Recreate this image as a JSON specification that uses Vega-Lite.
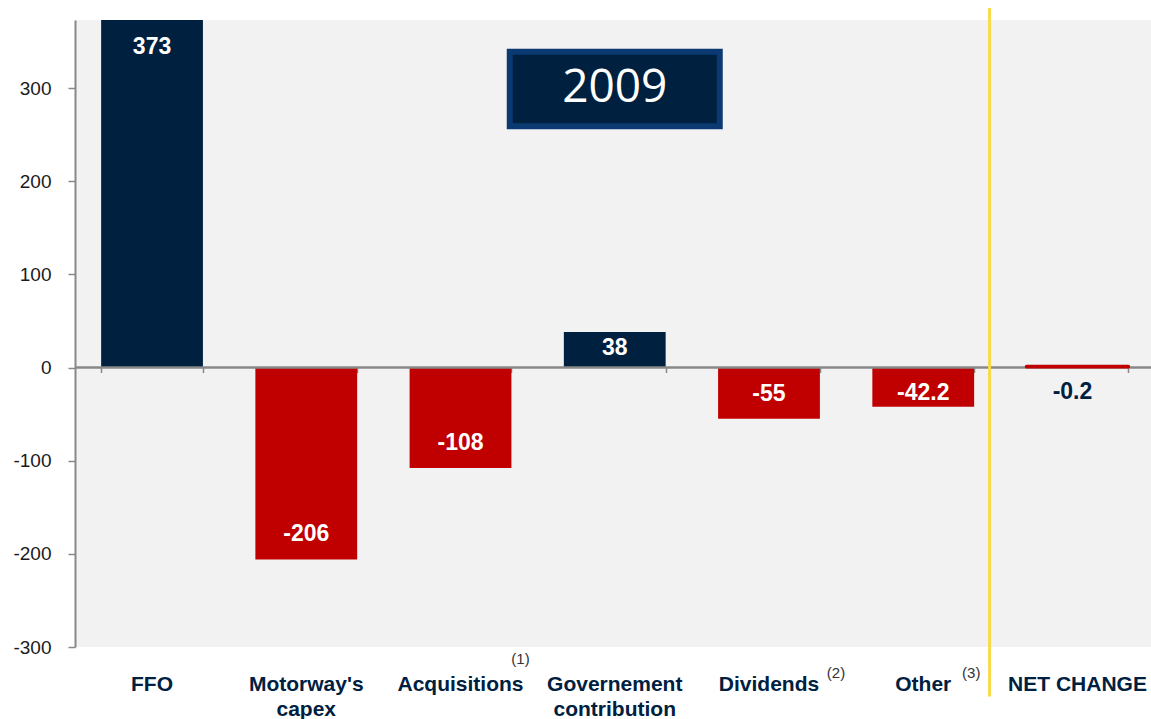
{
  "$schema": "https://vega.github.io/schema/vega-lite/v6.json",
  "autosize": {"type": "none"},
  "padding": {"left": 75, "top": 20, "right": 0, "bottom": 72},
  "width": 1076,
  "height": 627,
  "background": "white",
  "config": {
    "view": {"fill": "#F2F2F2", "stroke": null},
    "font": "Liberation Sans",
    "axisY": {
      "title": null, "grid": false,
      "domainColor": "#888888", "domainWidth": 2, "tickColor": "#888888", "tickWidth": 1.5,
      "tickSize": 7, "labelPadding": 17, "labelFontSize": 19, "labelColor": "#1A1A1A",
      "labelExpr": "'' + datum.value"
    }
  },
  "datasets": {
    "bars": [
      {"cat": "FFO", "value": 373},
      {"cat": "Motorway's capex", "value": -206},
      {"cat": "Acquisitions", "value": -108},
      {"cat": "Governement contribution", "value": 38},
      {"cat": "Dividends", "value": -55},
      {"cat": "Other", "value": -42.2},
      {"cat": "NET CHANGE", "value": -0.2}
    ],
    "notes": [
      {"cat": "Acquisitions", "note": "(1)"},
      {"cat": "Dividends", "note": "(2)"},
      {"cat": "Other", "note": "(3)"}
    ],
    "title": [
      {"cat": "Governement contribution", "year": "2009", "lo": 259, "hi": 339, "mid": 300}
    ],
    "divider": [
      {"cat": "NET CHANGE", "top": 386, "bottom": -353}
    ],
    "zero": [
      {"base": 0}
    ]
  },
  "resolve": {"axis": {"x": "independent"}},
  "layer": [
    {
      "data": {"name": "bars"},
      "transform": [{"filter": "datum.cat != 'NET CHANGE'"}],
      "mark": {"type": "bar"},
      "encoding": {
        "x": {
          "field": "cat", "type": "nominal",
          "sort": ["FFO", "Motorway's capex", "Acquisitions", "Governement contribution", "Dividends", "Other", "NET CHANGE"],
          "scale": {
            "domain": ["FFO", "Motorway's capex", "Acquisitions", "Governement contribution", "Dividends", "Other", "NET CHANGE"],
            "paddingInner": 0.34, "paddingOuter": 0.158, "align": 0.536
          },
          "axis": {
            "orient": "bottom", "title": null, "domain": false, "ticks": false, "tickSize": 0,
            "labelAngle": 0, "labelPadding": 26, "labelFontSize": 21, "labelFontWeight": "bold",
            "labelColor": "#00203F", "labelLineHeight": 25, "labelBaseline": "top",
            "labelExpr": "indexof(datum.label, 'NET') >= 0 ? datum.label : split(datum.label, ' ')"
          }
        },
        "y": {
          "field": "value", "type": "quantitative",
          "scale": {"domain": [-300, 373], "nice": false, "zero": false},
          "axis": {"title": null, "values": [-300, -200, -100, 0, 100, 200, 300]}
        },
        "color": {
          "condition": {"test": "datum.value > 0", "value": "#00203F"},
          "value": "#C00000"
        }
      }
    },
    {
      "data": {"name": "zero"},
      "mark": {"type": "rule", "color": "#888888", "strokeWidth": 2.5},
      "encoding": {
        "y": {"field": "base", "type": "quantitative", "axis": {"title": null, "values": [-300, -200, -100, 0, 100, 200, 300]}}
      }
    },
    {
      "data": {"name": "bars"},
      "transform": [{"filter": "datum.cat == 'NET CHANGE'"}],
      "mark": {"type": "bar", "fill": "#D42020", "stroke": "#C00000", "strokeWidth": 3.5, "strokeJoin": "round", "yOffset": -1},
      "encoding": {
        "x": {"field": "cat", "type": "nominal", "axis": null},
        "y": {"field": "value", "type": "quantitative", "axis": {"title": null, "values": [-300, -200, -100, 0, 100, 200, 300]}}
      }
    },
    {
      "data": {"name": "bars"},
      "mark": {"type": "rule", "opacity": 0},
      "encoding": {
        "x": {
          "field": "cat", "type": "nominal",
          "axis": {
            "orient": "bottom", "offset": -279.5, "labels": false, "title": null,
            "domain": false,
            "ticks": true, "tickBand": "extent", "tickSize": 5, "tickColor": "#888888", "tickWidth": 1.5,
            "tickOffset": 0
          }
        },
        "y": {"field": "value", "type": "quantitative", "axis": {"title": null, "values": [-300, -200, -100, 0, 100, 200, 300]}}
      }
    },
    {
      "data": {"name": "bars"},
      "mark": {
        "type": "text", "baseline": "middle", "align": "center", "fontSize": 23, "fontWeight": "bold",
        "dx": {"expr": "datum.cat == 'NET CHANGE' ? -5 : 0"},
        "dy": {"expr": "datum.cat == 'NET CHANGE' ? 24 : datum.value > 100 ? 27 : datum.value > 0 ? 16 : datum.value < -50 ? -25 : -14"}
      },
      "encoding": {
        "x": {"field": "cat", "type": "nominal", "axis": null},
        "y": {"field": "value", "type": "quantitative", "axis": {"title": null, "values": [-300, -200, -100, 0, 100, 200, 300]}},
        "text": {"field": "value", "type": "nominal"},
        "color": {
          "condition": {"test": "datum.cat == 'NET CHANGE'", "value": "#00203F"},
          "value": "#FFFFFF"
        }
      }
    },
    {
      "data": {"name": "title"},
      "mark": {"type": "bar", "width": 210, "fill": "#00203F", "stroke": "#0B3A73", "strokeWidth": 6},
      "encoding": {
        "x": {"field": "cat", "type": "nominal", "axis": null},
        "y": {"field": "lo", "type": "quantitative", "axis": {"title": null, "values": [-300, -200, -100, 0, 100, 200, 300]}},
        "y2": {"field": "hi"}
      }
    },
    {
      "data": {"name": "title"},
      "mark": {"type": "text", "font": "Open Sans", "fontSize": 46, "color": "#FFFFFF", "baseline": "middle", "align": "center"},
      "encoding": {
        "x": {"field": "cat", "type": "nominal", "axis": null},
        "y": {"field": "mid", "type": "quantitative", "axis": {"title": null, "values": [-300, -200, -100, 0, 100, 200, 300]}},
        "text": {"field": "year", "type": "nominal"}
      }
    },
    {
      "data": {"name": "divider"},
      "mark": {"type": "rule", "color": "#F9DA48", "strokeWidth": 3, "xOffset": -37},
      "encoding": {
        "x": {"field": "cat", "type": "nominal", "bandPosition": 0, "axis": null},
        "y": {"field": "top", "type": "quantitative", "axis": {"title": null, "values": [-300, -200, -100, 0, 100, 200, 300]}},
        "y2": {"field": "bottom"}
      }
    },
    {
      "data": {"name": "notes"},
      "mark": {
        "type": "text", "fontSize": 15, "color": "#333333", "baseline": "middle", "align": "center",
        "dx": {"expr": "datum.cat == 'Acquisitions' ? 60 : datum.cat == 'Dividends' ? 67 : 48"},
        "dy": {"expr": "datum.cat == 'Acquisitions' ? 12 : 26"}
      },
      "encoding": {
        "x": {"field": "cat", "type": "nominal", "axis": null},
        "y": {"datum": -300, "type": "quantitative", "axis": {"title": null, "values": [-300, -200, -100, 0, 100, 200, 300]}},
        "text": {"field": "note", "type": "nominal"}
      }
    }
  ]
}
